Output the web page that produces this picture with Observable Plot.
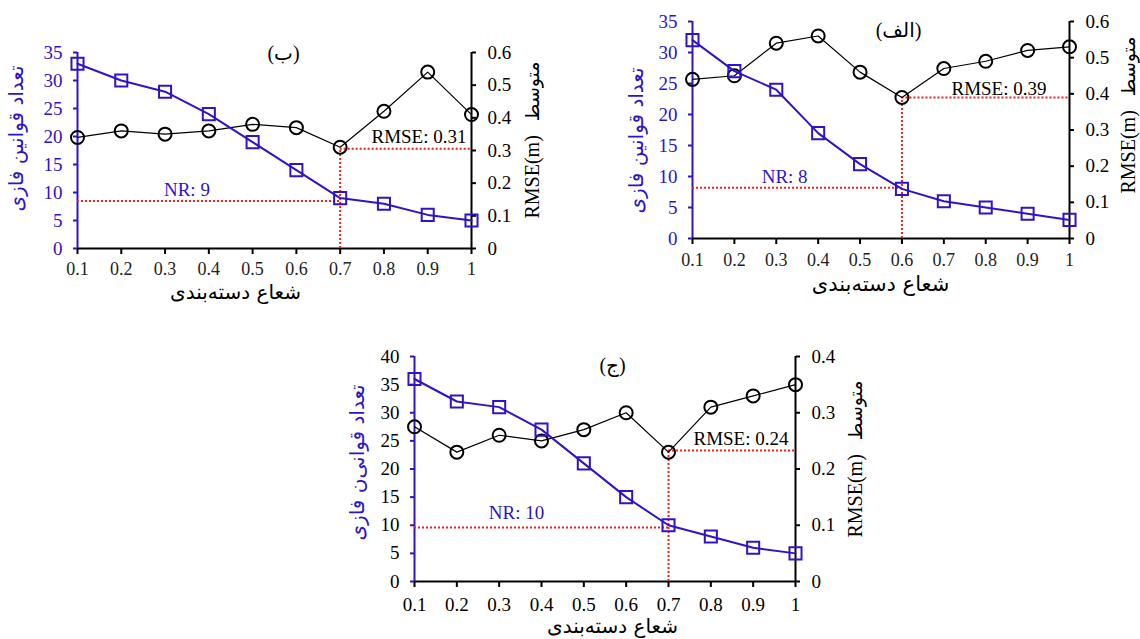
<!DOCTYPE html>
<html>
<head>
<meta charset="utf-8">
<script src="https://cdn.jsdelivr.net/npm/d3@7"></script>
<script src="https://cdn.jsdelivr.net/npm/@observablehq/plot@0.6"></script>
<style>
  html, body { margin: 0; padding: 0; background: #fff; }
  #root { position: relative; width: 1140px; height: 639px; overflow: hidden; background: #fff; }
  #root svg { position: absolute; overflow: visible; }
</style>
</head>
<body>
<div id="root"></div>
<script>
// ---------- data ----------
const radius = [0.1, 0.2, 0.3, 0.4, 0.5, 0.6, 0.7, 0.8, 0.9, 1];

// panel (الف)
const nrAlef   = [32, 27, 24, 17, 12, 8, 6, 5, 4, 3];
const rmseAlef = [0.44, 0.45, 0.54, 0.56, 0.46, 0.39, 0.47, 0.49, 0.52, 0.53];
// panel (ب)
const nrBe     = [33, 30, 28, 24, 19, 14, 9, 8, 6, 5];
const rmseBe   = [0.34, 0.36, 0.35, 0.36, 0.38, 0.37, 0.31, 0.42, 0.54, 0.41];
// panel (ج)
const nrJim    = [36, 32, 31, 27, 21, 15, 10, 8, 6, 5];
const rmseJim  = [0.275, 0.23, 0.26, 0.25, 0.27, 0.30, 0.23, 0.31, 0.33, 0.35];

const leftTicks35 = [0, 5, 10, 15, 20, 25, 30, 35];
const leftTicks40 = [0, 5, 10, 15, 20, 25, 30, 35, 40];
const rightTicks06 = [0, 0.1, 0.2, 0.3, 0.4, 0.5, 0.6];
const rightTicks04 = [0, 0.1, 0.2, 0.3, 0.4];

const panelTitles = ["(الف)", "(ب)", "(ج)"];
const nrLabels    = ["NR: 8", "NR: 9", "NR: 10"];
const rmseLabels  = ["RMSE: 0.39", "RMSE: 0.31", "RMSE: 0.24"];
const optimalRadius = [0.6, 0.7, 0.7];
const nrGuide     = [8.2, 8.5, 9.6];
const rmseGuide   = [0.39, 0.305, 0.233];

const xTitle = "شعاع دسته‌بندی";
const yTitleLeft = ["تعداد قوانین فازی", "تعداد قوانین فازی", "تعداد قوانی‌ن فازی"];
const yTitleRightWord = "متوسط";
const yTitleRightUnit = "RMSE(m)";

// ---------- styling ----------
const blue = "#2e14c8";
const red = "#ff1a1a";
const serif = "'Liberation Serif', 'Times New Roman', serif";
const arabic = "'DejaVu Sans', sans-serif";

function fmt(v) { return String(+v.toFixed(2)); }

function panel(cfg) {
  const k = cfg.yMax / cfg.rMax;
  const rows = radius.map((r, i) => ({r, nr: cfg.nr[i], rm: cfg.rmse[i] * k}));
  const frameL = cfg.mL, frameR = cfg.width - cfg.mR;
  const frameT = cfg.mT, frameB = cfg.height - cfg.mB;
  const cx = (frameL + frameR) / 2, cy = (frameT + frameB) / 2;
  const unitFs = 20;
  const unitLen = 4.167 * unitFs;
  const dots = {stroke: red, strokeWidth: 2, strokeDasharray: "2,2"};

  const svg = Plot.plot({
    width: cfg.width, height: cfg.height,
    marginLeft: cfg.mL, marginRight: cfg.mR, marginTop: cfg.mT, marginBottom: cfg.mB,
    x: {domain: [0.1, 1]},
    y: {domain: [0, cfg.yMax]},
    style: {fontFamily: serif, fontSize: "18px", background: "transparent", overflow: "visible"},
    marks: [
      // axis lines
      Plot.ruleY([0], {stroke: "#000", strokeWidth: 2}),
      Plot.ruleX([0.1], {stroke: blue, strokeWidth: 2}),
      Plot.ruleX([1], {stroke: "#000", strokeWidth: 2}),
      Plot.axisX({ticks: radius, tickFormat: fmt, tickSize: 6, tickPadding: cfg.xPad, label: null,
        stroke: "#000", strokeWidth: 2, fill: cfg.xTickFill, fontSize: cfg.xTickFs}),
      Plot.axisY({anchor: "left", ticks: cfg.leftTicks, tickSize: 4, tickPadding: 11, label: null,
        stroke: blue, strokeWidth: 2, fill: cfg.leftTickFill, fontSize: 19}),
      Plot.axisY({anchor: "right", ticks: cfg.rightTicks.map(v => v * k), tickFormat: d => fmt(d / k),
        tickSize: 4, tickPadding: 12, label: null, stroke: "#000", strokeWidth: 2, fill: "#000", fontSize: 19}),
      // red guide lines
      Plot.ruleY([{y: cfg.nrGuide, x1: 0.1, x2: cfg.opt}], {y: "y", x1: "x1", x2: "x2", ...dots}),
      Plot.ruleX([{x: cfg.opt, y1: 0, y2: cfg.rmseGuide * k}], {x: "x", y1: "y1", y2: "y2", ...dots}),
      Plot.ruleY([{y: cfg.rmseGuide * k, x1: cfg.opt, x2: 1}], {y: "y", x1: "x1", x2: "x2", ...dots}),
      // RMSE series (right axis)
      Plot.line(rows, {x: "r", y: "rm", stroke: "#000", strokeWidth: 1.2}),
      Plot.dot(rows, {x: "r", y: "rm", r: 6.5, stroke: "#000", strokeWidth: 2, fill: "none"}),
      // NR series (left axis)
      Plot.line(rows, {x: "r", y: "nr", stroke: blue, strokeWidth: 2}),
      Plot.dot(rows, {x: "r", y: "nr", symbol: "square", r: 6.8, stroke: blue, strokeWidth: 2, fill: "none"}),
      // annotations
      Plot.text([cfg.nrLabel], {x: cfg.nrX, y: cfg.nrGuide, dy: cfg.nrDy, fill: blue, fontSize: 19, fontFamily: serif}),
      Plot.text([cfg.rmseLabel], {x: 1, y: cfg.rmseGuide * k, dx: cfg.rmseDx, dy: cfg.rmseDy, textAnchor: "end",
        fill: "#000", fontSize: 19, fontFamily: serif}),
      // titles
      Plot.text([cfg.title], {frameAnchor: "top", dx: cfg.titleX - cx, dy: cfg.titleY - frameT,
        textAnchor: "middle", fontSize: 20, fontFamily: serif + ", 'DejaVu Sans'", fill: "#000"}),
      Plot.text([xTitle], {frameAnchor: "bottom", dx: cfg.xTitleX - cx, dy: cfg.xTitleY - frameB,
        textAnchor: "middle", fontSize: cfg.xTitleFs, fontFamily: arabic, fill: "#000"}),
      Plot.text([cfg.yTitle], {frameAnchor: "left", dx: cfg.yTitleX - frameL, dy: cfg.yTitleY - cy, rotate: -90,
        textAnchor: "middle", fontSize: 20, fontFamily: arabic, fill: blue}),
      Plot.text([yTitleRightUnit], {frameAnchor: "right", dx: cfg.rTitleX - frameR, dy: cfg.rTitleBottom - cy,
        rotate: -90, textAnchor: "start", fontSize: unitFs, fontFamily: serif, fill: "#000"}),
      Plot.text([yTitleRightWord], {frameAnchor: "right", dx: cfg.rTitleX - frameR,
        dy: cfg.rTitleBottom - unitLen - 14 - cy, rotate: -90, textAnchor: "start",
        fontSize: 19, fontFamily: arabic, fill: "#000"})
    ]
  });
  svg.style.left = cfg.left + "px";
  svg.style.top = cfg.top + "px";
  document.getElementById("root").appendChild(svg);
}

// panel (ب) — top left
panel({
  left: 0, top: 0, width: 570, height: 320, mL: 77, mR: 99, mT: 52, mB: 72,
  yMax: 35, rMax: 0.6, leftTicks: leftTicks35, rightTicks: rightTicks06,
  nr: nrBe, rmse: rmseBe, opt: optimalRadius[1], nrGuide: nrGuide[1], rmseGuide: rmseGuide[1],
  nrLabel: nrLabels[1], rmseLabel: rmseLabels[1], nrX: 0.35, nrDy: -11, rmseDx: -5, rmseDy: -12,
  title: panelTitles[1], titleX: 283, titleY: 45,
  xTitleX: 235, xTitleY: 298, xTitleFs: 20, yTitle: yTitleLeft[1], yTitleX: 16, yTitleY: 138,
  rTitleX: 532, rTitleBottom: 218,
  xPad: 8, xTickFill: "#222", xTickFs: 18, leftTickFill: blue
});

// panel (الف) — top right
panel({
  left: 570, top: 0, width: 570, height: 320, mL: 122, mR: 71, mT: 21, mB: 82,
  yMax: 35, rMax: 0.6, leftTicks: leftTicks35, rightTicks: rightTicks06,
  nr: nrAlef, rmse: rmseAlef, opt: optimalRadius[0], nrGuide: nrGuide[0], rmseGuide: rmseGuide[0],
  nrLabel: nrLabels[0], rmseLabel: rmseLabels[0], nrX: 0.32, nrDy: -11, rmseDx: -23, rmseDy: -9,
  title: panelTitles[0], titleX: 898 - 570, titleY: 22,
  xTitleX: 880 - 570, xTitleY: 290, xTitleFs: 21, yTitle: yTitleLeft[0], yTitleX: 636 - 570, yTitleY: 140,
  rTitleX: 1128 - 570, rTitleBottom: 193,
  xPad: 9, xTickFill: "#222", xTickFs: 18, leftTickFill: blue
});

// panel (ج) — bottom centre
panel({
  left: 300, top: 320, width: 580, height: 319, mL: 114, mR: 85, mT: 36, mB: 58,
  yMax: 40, rMax: 0.4, leftTicks: leftTicks40, rightTicks: rightTicks04,
  nr: nrJim, rmse: rmseJim, opt: optimalRadius[2], nrGuide: nrGuide[2], rmseGuide: rmseGuide[2],
  nrLabel: nrLabels[2], rmseLabel: rmseLabels[2], nrX: 0.341, nrDy: -15, rmseDx: -7, rmseDy: -12,
  title: panelTitles[2], titleX: 612 - 300, titleY: 357 - 320,
  xTitleX: 612 - 300, xTitleY: 632 - 320, xTitleFs: 20, yTitle: yTitleLeft[2], yTitleX: 357 - 300, yTitleY: 462 - 320,
  rTitleX: 855 - 300, rTitleBottom: 537 - 320,
  xPad: 10, xTickFill: "#000", xTickFs: 19, leftTickFill: "#000"
});
</script>
</body>
</html>
